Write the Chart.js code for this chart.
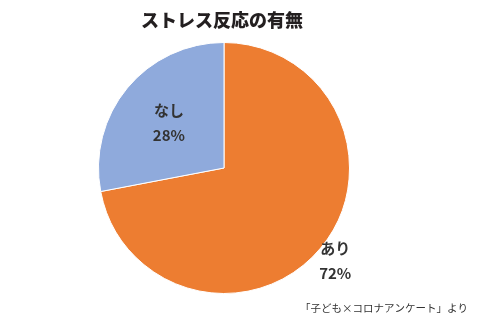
<!DOCTYPE html>
<html><head><meta charset="utf-8">
<script src="https://cdn.jsdelivr.net/npm/chart.js@4"></script>
<style>html,body{margin:0;padding:0;background:#fff}#w{width:480px;height:323px}</style>
</head><body><div id="w"><canvas id="c"></canvas></div>
<script>
const categories = ['あり', 'なし'];
const values = [72, 28];
const colors = ['#ED7D31', '#8FAADC'];
const title = 'ストレス反応の有無';
const source = '「子ども×コロナアンケート」より';
const labelDist = [1.15, 0.57];

const textPlugin = {
  id: 'texts',
  afterDraw(chart) {
    const ctx = chart.ctx;
    ctx.save();
    ctx.fillStyle = '#231f20';
    ctx.textAlign = 'center';
    ctx.textBaseline = 'middle';
    ctx.font = '900 18px "Noto Sans CJK JP"';
    ctx.fillText(title, 222, 20);
    const meta = chart.getDatasetMeta(0);
    meta.data.forEach((arc, i) => {
      const p = arc.getProps(['x','y','startAngle','endAngle','outerRadius'], true);
      const mid = (p.startAngle + p.endAngle) / 2;
      const d = p.outerRadius * labelDist[i];
      const x = p.x + Math.cos(mid) * d;
      const y = p.y + Math.sin(mid) * d;
      ctx.fillStyle = '#333';
      ctx.font = 'bold 15px "Noto Sans CJK JP"';
      ctx.fillText(categories[i], x, y - 12);
      ctx.fillText(values[i] + '%', x, y + 13);
    });
    ctx.font = '10.5px "Noto Sans CJK JP"';
    ctx.fillStyle = '#333';
    ctx.textAlign = 'right';
    ctx.fillText(source, 468, 308);
    ctx.restore();
  }
};

new Chart(document.getElementById('c'), {
  type: 'pie',
  data: { labels: categories, datasets: [{ data: values, backgroundColor: colors, borderColor: '#fff', borderWidth: 1 }] },
  options: {
    responsive: true, maintainAspectRatio: false, animation: false,
    layout: { padding: { top: 42, bottom: 29, left: 0, right: 32 } },
    plugins: { legend: { display: false }, tooltip: { enabled: false } }
  },
  plugins: [textPlugin]
});
</script></body></html>
